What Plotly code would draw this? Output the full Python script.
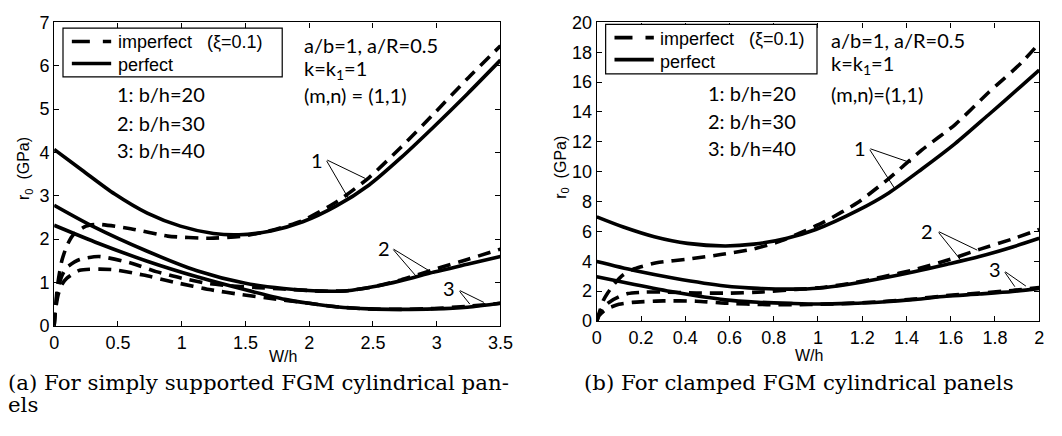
import plotly.graph_objects as go

# ---------------- data: (a) simply supported ----------------
ss_w_perf1 = [0, 0.22, 0.475, 0.73, 0.99, 1.25, 1.45, 1.7, 1.95, 2.21, 2.47, 2.72, 2.98, 3.24, 3.5]
ss_r_perf1 = [4.07, 3.59, 3.04, 2.6, 2.3, 2.13, 2.1, 2.19, 2.4, 2.76, 3.25, 3.88, 4.6, 5.35, 6.13]
ss_w_imp1 = [0, 0.01, 0.03, 0.06, 0.1, 0.15, 0.25, 0.35, 0.6, 0.89, 1.22, 1.48, 1.7, 1.95, 2.21, 2.47, 2.72, 2.98, 3.24, 3.5]
ss_r_imp1 = [0, 0.45, 1.0, 1.5, 1.85, 2.1, 2.3, 2.34, 2.24, 2.07, 2.02, 2.07, 2.2, 2.43, 2.85, 3.42, 4.12, 4.9, 5.7, 6.46]

ss_w_perf2 = [0, 0.3, 0.73, 1.12, 1.5, 1.8, 2.1, 2.3, 2.5, 2.72, 2.98, 3.24, 3.5]
ss_r_perf2 = [2.78, 2.3, 1.72, 1.27, 0.98, 0.86, 0.8, 0.81, 0.9, 1.04, 1.24, 1.42, 1.6]
ss_w_imp2 = [0, 0.01, 0.03, 0.06, 0.1, 0.2, 0.35, 0.6, 0.8, 1.0, 1.2, 1.4, 1.6, 1.8, 2.1, 2.3, 2.5, 2.72, 2.98, 3.24, 3.5]
ss_r_imp2 = [0, 0.4, 0.85, 1.15, 1.35, 1.53, 1.6, 1.45, 1.25, 1.1, 0.98, 0.92, 0.88, 0.85, 0.8, 0.81, 0.9, 1.06, 1.3, 1.53, 1.77]

ss_w_perf3 = [0, 0.35, 0.73, 1.12, 1.5, 1.81, 2.0, 2.21, 2.47, 2.72, 2.98, 3.24, 3.5]
ss_r_perf3 = [2.32, 1.9, 1.49, 1.13, 0.83, 0.61, 0.52, 0.44, 0.39, 0.38, 0.39, 0.43, 0.52]
ss_w_imp3 = [0, 0.01, 0.03, 0.06, 0.1, 0.2, 0.45, 0.7, 0.95, 1.23, 1.47, 1.7, 2.0, 2.21, 2.47, 2.72, 2.98, 3.24, 3.5]
ss_r_imp3 = [0, 0.35, 0.7, 0.95, 1.1, 1.28, 1.3, 1.17, 1.0, 0.83, 0.72, 0.63, 0.52, 0.44, 0.39, 0.38, 0.4, 0.45, 0.52]

# ---------------- data: (b) clamped ----------------
cc_w_perf1 = [0, 0.12, 0.26, 0.41, 0.58, 0.71, 0.86, 0.99, 1.18, 1.32, 1.47, 1.62, 1.77, 1.92, 2.0]
cc_r_perf1 = [6.98, 6.3, 5.65, 5.2, 5.03, 5.15, 5.55, 6.13, 7.41, 8.58, 10.18, 11.88, 13.8, 15.75, 16.8]
cc_w_imp1 = [0, 0.01, 0.03, 0.05, 0.08, 0.12, 0.17, 0.27, 0.42, 0.56, 0.7, 0.82, 0.92, 1.03, 1.18, 1.32, 1.47, 1.62, 1.77, 1.92, 2.0]
cc_r_imp1 = [0, 0.5, 1.4, 1.9, 2.5, 3.1, 3.5, 3.9, 4.16, 4.45, 4.8, 5.3, 5.9, 6.66, 7.94, 9.54, 11.46, 13.16, 15.29, 17.3, 18.6]

cc_w_perf2 = [0, 0.17, 0.35, 0.58, 0.73, 0.88, 1.0, 1.14, 1.29, 1.44, 1.58, 1.73, 1.88, 2.0]
cc_r_perf2 = [3.98, 3.38, 2.87, 2.35, 2.19, 2.14, 2.2, 2.47, 2.87, 3.32, 3.79, 4.32, 4.96, 5.54]
cc_w_imp2 = [0, 0.01, 0.03, 0.06, 0.1, 0.14, 0.22, 0.3, 0.45, 0.6, 0.75, 0.9, 1.0, 1.14, 1.29, 1.44, 1.58, 1.73, 1.88, 2.0]
cc_r_imp2 = [0, 0.45, 0.95, 1.3, 1.62, 1.84, 1.94, 1.94, 1.88, 1.87, 1.95, 2.12, 2.22, 2.5, 2.95, 3.45, 4.05, 4.8, 5.5, 6.13]

cc_w_perf3 = [0, 0.17, 0.35, 0.58, 0.73, 0.88, 1.0, 1.14, 1.29, 1.44, 1.58, 1.73, 1.88, 2.0]
cc_r_perf3 = [2.97, 2.45, 1.94, 1.42, 1.26, 1.18, 1.14, 1.18, 1.28, 1.45, 1.66, 1.81, 1.98, 2.19]
cc_w_imp3 = [0, 0.01, 0.03, 0.05, 0.1, 0.16, 0.3, 0.45, 0.58, 0.77, 0.92, 1.0, 1.14, 1.29, 1.44, 1.58, 1.73, 1.88, 2.0]
cc_r_imp3 = [0, 0.35, 0.65, 0.85, 1.12, 1.25, 1.35, 1.33, 1.2, 1.1, 1.1, 1.12, 1.18, 1.3, 1.48, 1.7, 1.87, 2.05, 2.25]

# tick labels
ss_xticks = [0, 0.5, 1, 1.5, 2, 2.5, 3, 3.5]
ss_xticktext = ["0", "0.5", "1", "1.5", "2", "2.5", "3", "3.5"]
ss_yticks = [0, 1, 2, 3, 4, 5, 6, 7]
cc_xticks = [0, 0.2, 0.4, 0.6, 0.8, 1, 1.2, 1.4, 1.6, 1.8, 2]
cc_xticktext = ["0", "0.2", "0.4", "0.6", "0.8", "1", "1.2", "1.4", "1.6", "1.8", "2"]
cc_yticks = [0, 2, 4, 6, 8, 10, 12, 14, 16, 18, 20]

legend_imp = "imperfect\u00a0\u00a0\u00a0(\u03be=0.1)"
legend_perf = "perfect"

W, H = 1062, 436
SANS = "Liberation Sans"
HUM = "Lato"
LW = 3.6
DASH = "13px,8px"

fig = go.Figure()

panels = [
    ("x", "y",
     [(ss_w_perf1, ss_r_perf1), (ss_w_perf2, ss_r_perf2), (ss_w_perf3, ss_r_perf3)],
     [(ss_w_imp1, ss_r_imp1), (ss_w_imp2, ss_r_imp2), (ss_w_imp3, ss_r_imp3)]),
    ("x2", "y2",
     [(cc_w_perf1, cc_r_perf1), (cc_w_perf2, cc_r_perf2), (cc_w_perf3, cc_r_perf3)],
     [(cc_w_imp1, cc_r_imp1), (cc_w_imp2, cc_r_imp2), (cc_w_imp3, cc_r_imp3)]),
]

for xa, ya, perf, imp in panels:
    for i, (wx, ry) in enumerate(perf):
        fig.add_trace(go.Scatter(x=wx, y=ry, mode="lines", xaxis=xa, yaxis=ya,
                                 line=dict(color="black", width=LW, shape="spline", smoothing=0.8),
                                 name=legend_perf, showlegend=False, hoverinfo="skip"))
    for i, (wx, ry) in enumerate(imp):
        fig.add_trace(go.Scatter(x=wx, y=ry, mode="lines", xaxis=xa, yaxis=ya,
                                 line=dict(color="black", width=LW, dash=DASH, shape="spline", smoothing=0.6),
                                 name=legend_imp, showlegend=False, hoverinfo="skip"))

axis_common = dict(showline=True, linecolor="black", linewidth=1.3, mirror="ticks",
                   ticks="inside", ticklen=5, tickwidth=1, tickcolor="black",
                   showgrid=False, zeroline=False,
                   tickfont=dict(family=SANS, size=18, color="black"))

fig.update_layout(
    width=W, height=H, margin=dict(l=0, r=0, t=0, b=0),
    paper_bgcolor="white", plot_bgcolor="white", hovermode=False, showlegend=False,
    xaxis=dict(domain=[50 / W, 504 / W], range=[0, 3.5], tickvals=ss_xticks, ticktext=ss_xticktext,
               anchor="y", **axis_common),
    yaxis=dict(domain=[1 - 331 / H, 1 - 13 / H], range=[0, 7], tickvals=ss_yticks, anchor="x", **axis_common),
    xaxis2=dict(domain=[602 / W, 1052 / W], range=[0, 2], tickvals=cc_xticks, ticktext=cc_xticktext,
                anchor="y2", **axis_common),
    yaxis2=dict(domain=[1 - 326 / H, 1 - 13 / H], range=[0, 20], tickvals=cc_yticks, anchor="x2", **axis_common),
)

ann = []
shapes = []
def txt(x, y, s, xref="paper", yref="paper", size=20, family=HUM, xanchor="left", **kw):
    ann.append(dict(x=x, y=y, xref=xref, yref=yref, text=s, showarrow=False, xanchor=xanchor,
                    yanchor="middle", font=dict(family=family, size=size, color="black"), **kw))

# legend boxes (drawn per panel, like the original figure)
def legend_box(left, top, right, bottom, sample_x0, row1, row2, text_x):
    shapes.append(dict(type="rect", xref="paper", yref="paper", x0=left / W, x1=right / W,
                       y0=1 - bottom / H, y1=1 - top / H, line=dict(color="black", width=1.2),
                       fillcolor="white", layer="above"))
    shapes.append(dict(type="line", xref="paper", yref="paper", x0=sample_x0 / W, x1=(sample_x0 + 40) / W,
                       y0=1 - row1 / H, y1=1 - row1 / H, line=dict(color="black", width=LW, dash="18px,13px"),
                       layer="above"))
    shapes.append(dict(type="line", xref="paper", yref="paper", x0=sample_x0 / W, x1=(sample_x0 + 40) / W,
                       y0=1 - row2 / H, y1=1 - row2 / H, line=dict(color="black", width=LW), layer="above"))
    txt(text_x / W, 1 - (row1 + 1) / H, legend_imp, family=SANS, size=18)
    txt(text_x / W, 1 - (row2 + 2) / H, legend_perf, family=SANS, size=18)

legend_box(59, 19, 282, 70, 68, 33, 56, 113)
legend_box(611, 15, 826, 67, 620, 29, 52, 664)

# left panel texts
txt(302 / W, 1 - 37 / H, "a/b=1, a/R=0.5")
txt(302 / W, 1 - 62 / H, "k=k<sub>1</sub>=1")
txt(302 / W, 1 - 89 / H, "(m,n) = (1,1)")
txt(112 / W, 1 - 88 / H, "1: b/h=20")
txt(112 / W, 1 - 118 / H, "2: b/h=30")
txt(112 / W, 1 - 147 / H, "3: b/h=40")
# right panel texts
txt(838 / W, 1 - 31 / H, "a/b=1, a/R=0.5")
txt(838 / W, 1 - 57 / H, "k=k<sub>1</sub>=1")
txt(838 / W, 1 - 88 / H, "(m,n)=(1,1)")
txt(713 / W, 1 - 87 / H, "1: b/h=20")
txt(713 / W, 1 - 116 / H, "2: b/h=30")
txt(713 / W, 1 - 145 / H, "3: b/h=40")

# axis titles
txt(20 / W, 1 - 166 / H, "r<sub>0</sub>  (GPa)", family=SANS, size=16, xanchor="center", textangle=-90)
txt(566 / W, 1 - 165 / H, "r<sub>0</sub>  (GPa)", family=SANS, size=16, xanchor="center", textangle=-90)
txt(283 / W, 1 - 363 / H, "W/h", family=SANS, size=16, xanchor="center")
txt(818 / W, 1 - 362 / H, "W/h", family=SANS, size=16, xanchor="center")

# captions
txt(1 / W, 1 - 390 / H, "(a) For simply supported FGM cylindrical pan-", family="DejaVu Serif", size=21.3)
txt(1 / W, 1 - 413 / H, "els", family="DejaVu Serif", size=21.3)
txt(587 / W, 1 - 390 / H, "(b) For clamped FGM cylindrical panels", family="DejaVu Serif", size=21.3)

# curve labels with leader lines (data coordinates)
def leader(xa, ya, tail, head):
    ann.append(dict(x=head[0], y=head[1], xref=xa, yref=ya, ax=tail[0], ay=tail[1], axref=xa, ayref=ya,
                    text="", showarrow=True, arrowhead=0, arrowwidth=1, arrowcolor="black",
                    standoff=0, startstandoff=0))

txt(2.06, 3.82, "1", xref="x", yref="y", xanchor="center")
leader("x", "y", (2.13, 3.84), (2.44, 3.40))
leader("x", "y", (2.13, 3.84), (2.31, 2.93))
txt(2.59, 1.80, "2", xref="x", yref="y", xanchor="center")
leader("x", "y", (2.65, 1.79), (2.98, 1.20))
leader("x", "y", (2.65, 1.79), (2.84, 1.14))
txt(3.10, 0.88, "3", xref="x", yref="y", xanchor="center")
leader("x", "y", (3.17, 0.83), (3.37, 0.54))
leader("x", "y", (3.17, 0.83), (3.26, 0.50))

txt(1.19, 11.6, "1", xref="x2", yref="y2", xanchor="center")
leader("x2", "y2", (1.23, 11.57), (1.42, 10.6))
leader("x2", "y2", (1.23, 11.57), (1.35, 8.8))
txt(1.495, 6.05, "2", xref="x2", yref="y2", xanchor="center")
leader("x2", "y2", (1.54, 6.03), (1.72, 4.75))
leader("x2", "y2", (1.54, 6.03), (1.65, 4.0))
txt(1.80, 3.5, "3", xref="x2", yref="y2", xanchor="center")
leader("x2", "y2", (1.84, 3.37), (1.94, 2.34))
leader("x2", "y2", (1.84, 3.37), (1.89, 2.30))

fig.update_layout(annotations=ann, shapes=shapes)
post = ("document.body.style.margin='0px';"
        "var d=document.getElementById('{plot_id}');"
        "d.style.position='fixed';d.style.left='0px';d.style.top='0px';")
fig.write_html("out.html", config={"displayModeBar": False}, post_script=post)
